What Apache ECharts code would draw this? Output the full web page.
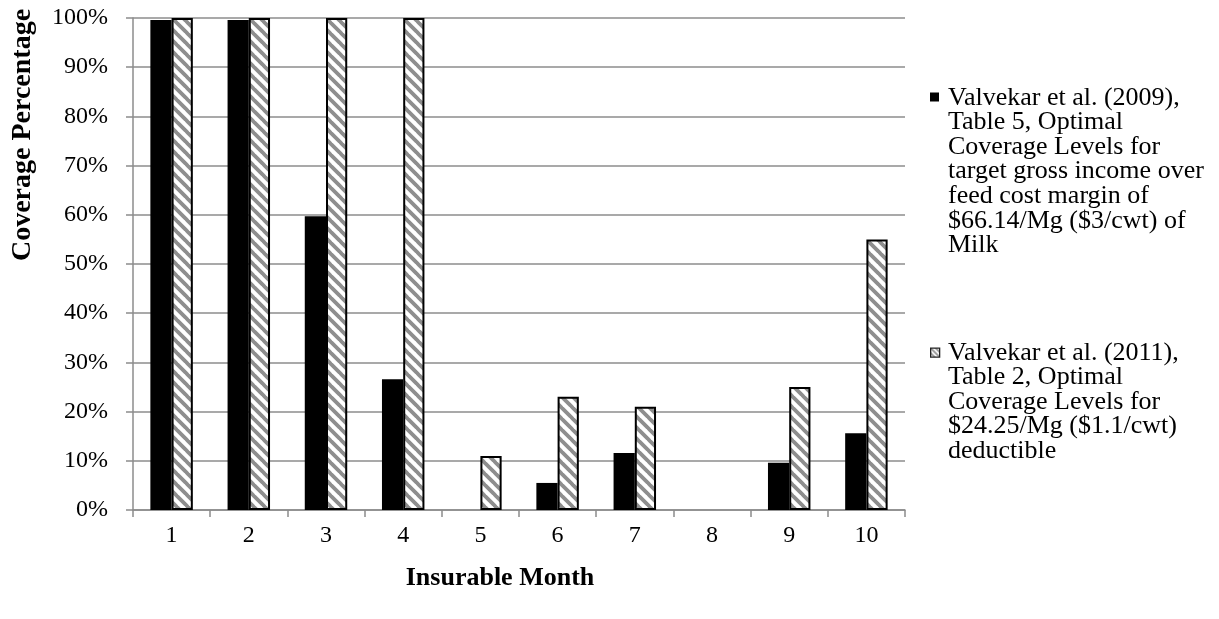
<!DOCTYPE html>
<html>
<head>
<meta charset="utf-8">
<title>Optimal Coverage Levels by Insurable Month</title>
<script src="https://cdn.jsdelivr.net/npm/echarts@6/dist/echarts.min.js"></script>
<style>
  html, body { margin: 0; padding: 0; background: #ffffff; overflow: hidden; }
  #chart { width: 1219px; height: 619px; }
</style>
</head>
<body>
<div id="chart"></div>
<script>
// Insurable months on the x axis
const months = ['1', '2', '3', '4', '5', '6', '7', '8', '9', '10'];

// Coverage percentages per month
const coverage2009 = [99.6, 99.6, 59.7, 26.6, 0, 5.5, 11.6, 0, 9.6, 15.6];
const coverage2011 = [100, 100, 100, 100, 11, 23, 21, 0, 25, 55];

// Series names, one entry per legend line
const legend2009 = [
  'Valvekar et al. (2009),',
  'Table 5, Optimal',
  'Coverage Levels for',
  'target gross income over',
  'feed cost margin of',
  '$66.14/Mg ($3/cwt) of',
  'Milk'
];
const legend2011 = [
  'Valvekar et al. (2011),',
  'Table 2, Optimal',
  'Coverage Levels for',
  '$24.25/Mg ($1.1/cwt)',
  'deductible'
];

const yTicks = { min: 0, max: 100, interval: 10 };

const FONT = '"Liberation Serif", "Times New Roman", serif';
const GRID_GRAY = '#8c8c8c';

// Diagonal hatch tile for the 2011 series
function makeHatch(size, stripe) {
  const c = document.createElement('canvas');
  c.width = size; c.height = size;
  const ctx = c.getContext('2d');
  ctx.fillStyle = '#ffffff';
  ctx.fillRect(0, 0, size, size);
  ctx.strokeStyle = '#8e8e8e';
  ctx.lineWidth = stripe;
  ctx.beginPath();
  for (let o = -size; o <= size; o += size) {
    ctx.moveTo(o - 1, -1);
    ctx.lineTo(o + size + 1, size + 1);
  }
  ctx.stroke();
  return c;
}
const hatchFill = { image: makeHatch(11, 3.8), repeat: 'repeat' };
const hatchSmall = { image: makeHatch(5, 1.7), repeat: 'repeat' };

const chart = echarts.init(document.getElementById('chart'), null, { renderer: 'canvas' });

const lineH = 24.6;
const legendFont = '26px ' + FONT;

chart.setOption({
  animation: false,
  backgroundColor: '#ffffff',
  textStyle: { fontFamily: FONT },
  grid: { left: 133, right: 314, top: 18, bottom: 109, containLabel: false },
  xAxis: {
    type: 'category',
    data: months,
    boundaryGap: true,
    name: 'Insurable Month',
    nameLocation: 'middle',
    nameGap: 55,
    nameTextStyle: {
      fontFamily: FONT, fontSize: 26, fontWeight: 'bold', color: '#000',
      padding: [0, 38, 0, 0]
    },
    axisLine: { lineStyle: { color: GRID_GRAY, width: 1.5 } },
    axisTick: { show: true, alignWithLabel: false, length: 7, lineStyle: { color: GRID_GRAY, width: 1.5 } },
    axisLabel: { fontFamily: FONT, fontSize: 24, color: '#000', margin: 14 },
    splitLine: { show: false }
  },
  yAxis: {
    type: 'value',
    min: yTicks.min,
    max: yTicks.max,
    interval: yTicks.interval,
    name: 'Coverage Percentage',
    nameLocation: 'middle',
    nameRotate: 90,
    nameGap: 96,
    nameTextStyle: {
      fontFamily: FONT, fontSize: 28, fontWeight: 'bold', color: '#000',
      padding: [0, 0, 0, 258]
    },
    axisLine: { show: true, lineStyle: { color: GRID_GRAY, width: 1.5 } },
    axisTick: { show: true, length: 7, lineStyle: { color: GRID_GRAY, width: 1.5 } },
    axisLabel: { fontFamily: FONT, fontSize: 24, color: '#000', margin: 25, formatter: '{value}%' },
    splitLine: { show: true, lineStyle: { color: GRID_GRAY, width: 1.5 } }
  },
  legend: { show: false },
  series: [
    {
      name: legend2009.join(' '),
      type: 'bar',
      data: coverage2009,
      barGap: '0%',
      barCategoryGap: '45%',
      itemStyle: { color: '#000000' }
    },
    {
      name: legend2011.join(' '),
      type: 'bar',
      data: coverage2011.map(v => v === 0
        ? { value: v, itemStyle: { borderWidth: 0 } }
        : v),
      barGap: '0%',
      barCategoryGap: '45%',
      itemStyle: { color: hatchFill, borderColor: '#000000', borderWidth: 2 }
    }
  ],
  graphic: [
    // legend entry: 2009 series
    {
      type: 'rect', left: 930, top: 92.5,
      shape: { width: 9, height: 9 },
      style: { fill: '#000000' }
    },
    {
      type: 'text', left: 948, top: 97 - lineH / 2,
      style: {
        text: legend2009.join('\n'), font: legendFont,
        fill: '#000', lineHeight: lineH
      }
    },
    // legend entry: 2011 series
    {
      type: 'rect', left: 930, top: 347.5,
      shape: { width: 9, height: 9 },
      style: { fill: hatchSmall, stroke: '#222', lineWidth: 1.3 }
    },
    {
      type: 'text', left: 948, top: 352 - lineH / 2,
      style: {
        text: legend2011.join('\n'), font: legendFont,
        fill: '#000', lineHeight: lineH
      }
    }
  ]
});
</script>
</body>
</html>
